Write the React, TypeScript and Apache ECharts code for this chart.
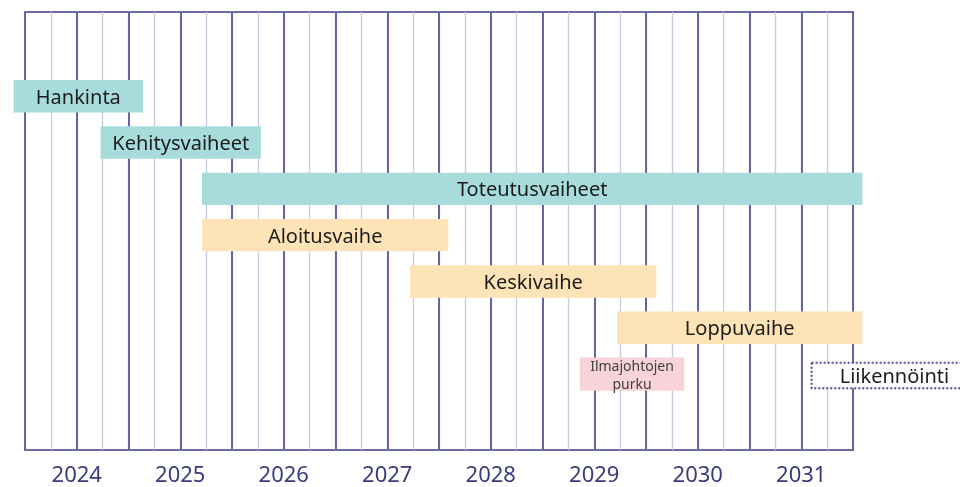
import React, { useEffect, useRef } from "react";
import * as echarts from "echarts";

// Year labels (each label sits in the middle of its year)
const years = ["2024", "2025", "2026", "2027", "2028", "2029", "2030", "2031"];

// Phases (start / end in fractional years, row from top)
const phaseNames = [
  "Hankinta",
  "Kehitysvaiheet",
  "Toteutusvaiheet",
  "Aloitusvaihe",
  "Keskivaihe",
  "Loppuvaihe",
  "Ilmajohtojen\npurku",
  "Liikennöinti",
];
const phaseStart = [2023.89, 2024.73, 2025.71, 2025.71, 2027.72, 2029.72, 2029.36, 2031.6];
const phaseEnd = [2025.14, 2026.28, 2032.09, 2028.09, 2030.1, 2032.09, 2030.37, 2033.2];
const phaseRow = [0, 1, 2, 3, 4, 5, 6, 6.03];
const phaseKind = ["teal", "teal", "teal", "peach", "peach", "peach", "pink", "dotted"];

const kindStyle: Record<string, any> = {
  teal: { fill: "#a8dcdc", stroke: null, h: 0.7, font: 20, color: "#1c1c1c" },
  peach: { fill: "#fde3b5", stroke: null, h: 0.7, font: 20, color: "#1c1c1c" },
  pink: { fill: "#f8d3d9", stroke: null, h: 0.72, font: 14, color: "#404040" },
  dotted: { fill: "#ffffff", stroke: "#4a4a92", h: 0.55, font: 20, color: "#1c1c1c" },
};

export default function App() {
  const ref = useRef<HTMLDivElement>(null);
  useEffect(() => {
    if (!ref.current) return;
    const chart = echarts.init(ref.current, null, { renderer: "svg" });
    const data = phaseNames.map((_, i) => [phaseStart[i], phaseEnd[i], phaseRow[i]]);
    chart.setOption({
      animation: false,
      grid: {
        left: 25,
        right: 107,
        top: 12,
        bottom: 37,
        show: true,
        borderColor: "#6a6aa6",
        borderWidth: 2,
        backgroundColor: "transparent",
      },
      xAxis: [
        {
          type: "value",
          min: 2024,
          max: 2032,
          interval: 0.25,
          position: "bottom",
          axisLine: { show: false },
          axisTick: { show: false },
          axisLabel: { show: false },
          splitLine: { show: true, lineStyle: { color: "#c9c9df", width: 1.3 } },
        },
        {
          type: "value",
          min: 2024,
          max: 2032,
          interval: 0.5,
          position: "bottom",
          axisLine: { show: false },
          axisTick: { show: false },
          splitLine: { show: true, lineStyle: { color: "#6464a4", width: 2 } },
          axisLabel: {
            show: true,
            margin: 12,
            fontSize: 22,
            lineHeight: 22,
            color: "#3a3a7c",
            fontFamily: "Noto Sans",
            showMinLabel: true,
            showMaxLabel: true,
            formatter: (v: number) => {
              const frac = Math.round((v - Math.floor(v)) * 100);
              if (frac !== 50) return "";
              return years[Math.floor(v) - 2024] ?? "";
            },
          },
        },
      ],
      yAxis: {
        type: "value",
        inverse: true,
        min: -1.82,
        max: 7.64,
        show: false,
        splitLine: { show: false },
      },
      series: [
        {
          type: "custom",
          xAxisIndex: 1,
          clip: false,
          data,
          renderItem: (params: any, api: any) => {
            const i = params.dataIndex;
            const st = kindStyle[phaseKind[i]];
            const p0 = api.coord([api.value(0), api.value(2)]);
            const p1 = api.coord([api.value(1), api.value(2)]);
            const h = api.size([0, 1])[1] * st.h;
            const rectStyle: any = { fill: st.fill };
            if (st.stroke) {
              rectStyle.stroke = st.stroke;
              rectStyle.lineWidth = 2;
              rectStyle.lineDash = [2, 2];
            }
            const lines = phaseNames[i].split("\n");
            const lh = 18;
            const texts = lines.map((ln, k) => ({
              type: "text",
              x: (p0[0] + p1[0]) / 2,
              y: p0[1] + (k - (lines.length - 1) / 2) * lh,
              style: {
                text: ln,
                fill: st.color,
                fontSize: st.font,
                fontFamily: "Noto Sans",
                align: "center",
                verticalAlign: "middle",
              },
            }));
            return {
              type: "group",
              children: [
                {
                  type: "rect",
                  shape: { x: p0[0], y: p0[1] - h / 2, width: p1[0] - p0[0], height: h },
                  style: rectStyle,
                },
                ...texts,
              ],
            };
          },
        },
      ],
    });
    return () => chart.dispose();
  }, []);
  return <div ref={ref} style={{ width: 960, height: 487, position: "fixed", left: 0, top: 0 }} />;
}
